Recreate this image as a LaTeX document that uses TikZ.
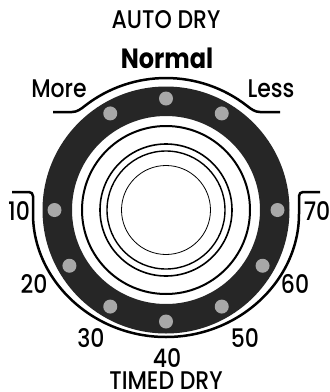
\documentclass[tikz,border=0pt]{standalone}
\usepackage{fontspec}
\setmainfont{Poppins Medium}[BoldFont={Poppins Bold}]
\usetikzlibrary{calc}
\definecolor{ringc}{HTML}{262626}
\definecolor{dotc}{HTML}{A8A8A8}
\newcommand{\tallt}[1]{\scalebox{1}[1.16]{#1}}
\begin{document}
\begin{tikzpicture}[x=1pt,y=-1pt,
  lbl/.style={inner sep=0pt, anchor=base, text height=15pt, text depth=0pt, font=\fontsize{22}{22}\selectfont},
  bold/.style={inner sep=0pt, anchor=base, text height=18pt, text depth=0pt, font=\fontsize{24}{24}\selectfont\bfseries},
  dotn/.style={circle, fill=dotc, minimum size=14pt, inner sep=0pt},
  br/.style={line width=2.5pt, line join=round}]
\useasboundingbox (0,0) rectangle (330,392);
\coordinate (C) at (166,210);
% dark ring
\fill[ringc, even odd rule] (C) circle[radius=123.5pt] (C) circle[radius=94pt];
% inner circles
\draw[line width=2pt] (C) circle[radius=84pt];
\draw[line width=1.6pt] (C) circle[radius=66pt];
\draw[line width=1.4pt] (C) circle[radius=59pt];
\draw[line width=0.8pt] (C) circle[radius=44.5pt];
% dots
\foreach \a in {60,90,120,180,210,240,270,300,330,0}
  \node[dotn] (d\a) at ($(C)+(\a:111.5pt)$) {};
% top bracket
\draw[br] (53,112) -- (72,112) .. controls (77,112) and (80.8,109.1) .. (84.7,106)
  arc[start angle=128, end angle=52, radius=132pt]
  .. controls (251.2,109.1) and (255,112) .. (260,112) -- (280,112);
% bottom bracket
\draw[br, rounded corners=4pt] (12,192) -- (33,192) -- (33,210)
  arc[start angle=180, end angle=360, x radius=133pt, y radius=127pt]
  -- (299,192) -- (320,192);
% labels
\node[lbl] (auto) at (166,28) {\tallt{AUTO DRY}};
\node[bold] (normal) at (167,68) {\tallt{Normal}};
\node[lbl] (more) at (59,97) {\tallt{More}};
\node[lbl] (less) at (271,97) {\tallt{Less}};
\node[lbl] (t10) at (19,220) {\tallt{10}};
\node[lbl] (t70) at (317,220) {\tallt{70}};
\node[lbl] (t20) at (34,293) {\tallt{20}};
\node[lbl] (t60) at (295,293) {\tallt{60}};
\node[lbl] (t30) at (91,347) {\tallt{30}};
\node[lbl] (t50) at (245,347) {\tallt{50}};
\node[lbl] (t40) at (167,367) {\tallt{40}};
\node[lbl] (timed) at (166,389) {\tallt{TIMED DRY}};
\end{tikzpicture}
\end{document}
